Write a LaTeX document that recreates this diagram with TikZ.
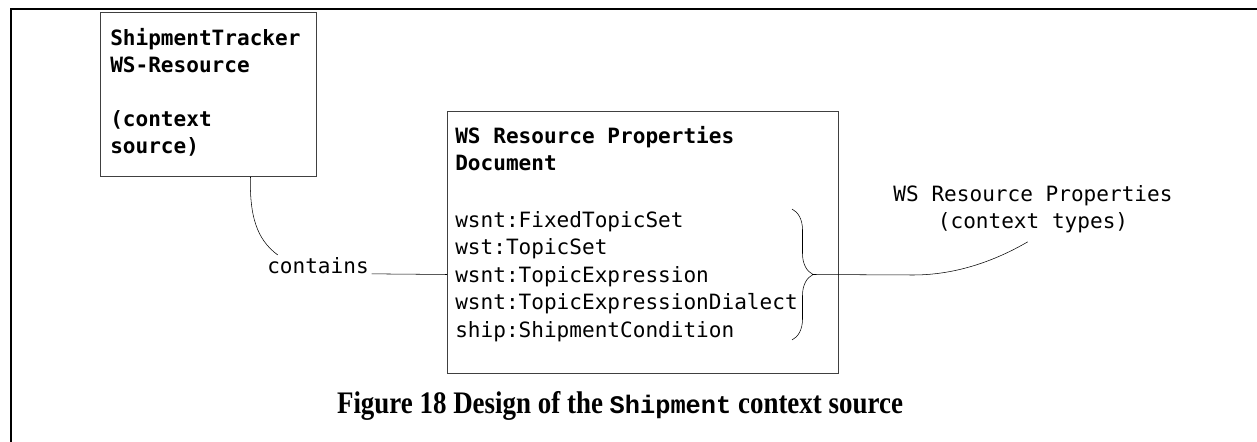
\documentclass[tikz,border=0pt]{standalone}
\usepackage{fontspec}
\setmonofont{DejaVu Sans Mono}
\newfontfamily\capfont[FakeStretch=0.86]{Liberation Serif}
\newfontfamily\capmono{Liberation Mono}
\usetikzlibrary{decorations.pathreplacing}
\tikzset{
  frame/.style={draw=black!75, line width=0.75pt, anchor=north west, inner sep=0pt},
  boxtext/.style={anchor=north west, inner sep=0pt, align=left, font=\ttfamily\fontsize{15.8}{20.6}\selectfont},
  label/.style={inner sep=2pt, align=center, font=\ttfamily\fontsize{15.8}{20.6}\selectfont},
}
\begin{document}
\begin{tikzpicture}[x=0.75pt,y=-0.75pt]
  \useasboundingbox (0,0) rectangle (1257,442);
  \draw[line width=1.6pt] (1257,9) -- (11,9) -- (11,442);

  % context source
  \node[frame, minimum width=162pt, minimum height=123pt] (tracker) at (100,12) {};
  \node[boxtext, font=\ttfamily\bfseries\fontsize{15.8}{20.3}\selectfont] (trackertext) at (110,28)
    {ShipmentTracker\\WS-Resource\\[20.3pt](context\\source)};

  % properties document
  \node[frame, minimum width=293.25pt, minimum height=196.5pt] (docbox) at (447,111) {};
  \node[boxtext, font=\ttfamily\bfseries\fontsize{15.8}{20.3}\selectfont] (doctitle) at (455,126)
    {WS Resource Properties\\Document};
  \node[boxtext] (props) at (455,211)
    {wsnt:FixedTopicSet\\wst:TopicSet\\wsnt:TopicExpression\\wsnt:TopicExpressionDialect\\ship:ShipmentCondition};
  \draw[decorate, decoration={brace, amplitude=15.75pt}] (792,209) -- (792,340);
  \coordinate (bracetip) at (813,274.5);

  \node[label] (contains) at (318,266) {contains};
  \node[label] (ctxtypes) at (1033,209) {WS Resource Properties\\(context types)};

  \draw ([xshift=31.5pt]tracker.south) .. controls (249,225) and (262,243) .. ([xshift=10pt]contains.north west);
  \draw (contains.base east) -- (docbox.west |- bracetip);
  \draw (bracetip) -- (913,275) .. controls (960,275) and (1000,258) .. ([shift={(-4pt,-4.5pt)}]ctxtypes.south);

  \node[font=\capfont\bfseries\fontsize{23.5}{27}\selectfont] (caption) at (620,406)
    {Figure 18 Design of the {\capmono\fontsize{19}{27}\selectfont Shipment} context source};
\end{tikzpicture}
\end{document}
